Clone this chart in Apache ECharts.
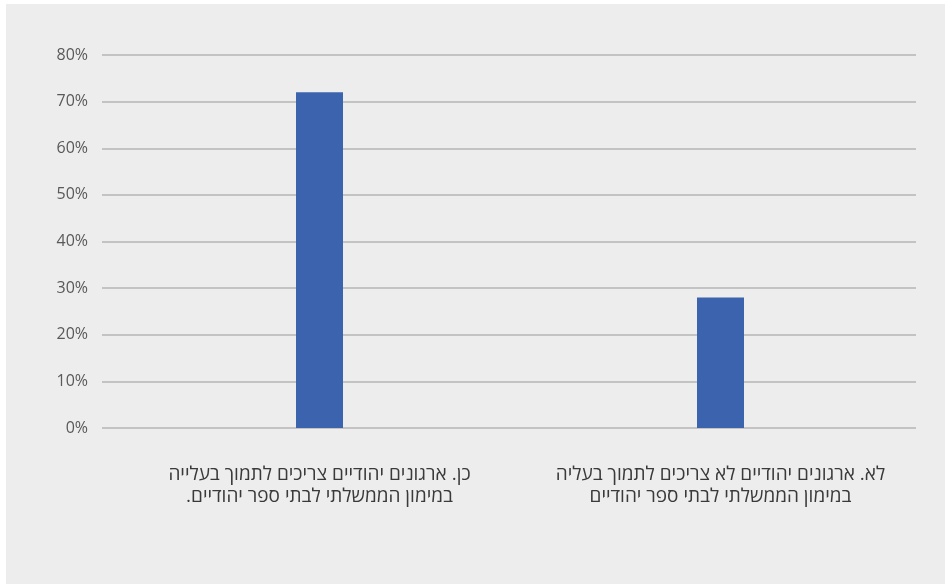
<!DOCTYPE html>
<html>
<head>
<meta charset="utf-8">
<script src="https://cdn.jsdelivr.net/npm/echarts@6/dist/echarts.min.js"></script>
<style>
  html, body { margin: 0; padding: 0; background: #ffffff; }
  #panel { position: absolute; left: 6px; top: 4px; width: 939px; height: 580px; background: #ededed; }
  #chart { position: absolute; left: 0; top: 0; width: 945px; height: 584px; }
</style>
</head>
<body>
<div id="panel"></div>
<div id="chart"></div>
<script>
const categories = [
  "כן. ארגונים יהודיים צריכים לתמוך בעלייה\nבמימון הממשלתי לבתי ספר יהודיים.\u200F",
  "לא. ארגונים יהודיים לא צריכים לתמוך בעליה\nבמימון הממשלתי לבתי ספר יהודיים"
];
const values = [72, 28];
const yTicks = [0, 10, 20, 30, 40, 50, 60, 70, 80];

const chart = echarts.init(document.getElementById('chart'), null, { renderer: 'canvas' });
const fontFamily = '"Open Sans", "DejaVu Sans", sans-serif';
const yMin = yTicks[0], yMax = yTicks[yTicks.length - 1], yStep = yTicks[1] - yTicks[0];

chart.setOption({
  backgroundColor: 'transparent',
  animation: false,
  grid: [
    { left: 102, right: 29, top: 55, bottom: 156 },
    { left: 119, right: 24, top: 55, bottom: 156 }
  ],
  xAxis: [
    { gridIndex: 0, type: 'category', data: categories, show: false },
    {
      gridIndex: 1, type: 'category', data: categories,
      axisLine: { show: false }, axisTick: { show: false },
      axisLabel: {
        interval: 0, margin: 36, color: '#3a3a3a', fontSize: 19, fontWeight: 500,
        fontFamily: fontFamily, lineHeight: 22, align: 'center'
      }
    }
  ],
  yAxis: [
    {
      gridIndex: 0, type: 'value', min: yMin, max: yMax, interval: yStep,
      axisLine: { show: false }, axisTick: { show: false },
      axisLabel: { formatter: '{value}%', color: '#595959', fontSize: 16, fontFamily: fontFamily, margin: 14 },
      splitLine: { lineStyle: { color: '#b5b5b5', width: 1.5 } }
    },
    {
      gridIndex: 1, type: 'value', min: yMin, max: yMax, interval: yStep, show: false,
      splitLine: { show: false }
    }
  ],
  series: [{
    type: 'bar', xAxisIndex: 1, yAxisIndex: 1,
    data: values, barWidth: 47,
    itemStyle: { color: '#3c64ae' }
  }]
});
</script>
</body>
</html>
